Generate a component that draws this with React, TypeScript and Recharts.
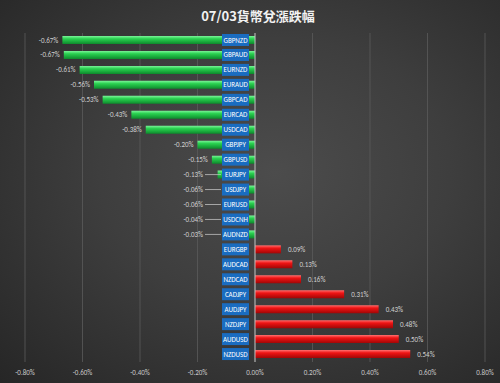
import React from 'react';
import { BarChart, Bar, XAxis, YAxis, CartesianGrid, Cell, LabelList, ReferenceLine } from 'recharts';

const pairs = ['GBPNZD','GBPAUD','EURNZD','EURAUD','GBPCAD','EURCAD','USDCAD','GBPJPY','GBPUSD','EURJPY','USDJPY','EURUSD','USDCNH','AUDNZD','EURGBP','AUDCAD','NZDCAD','CADJPY','AUDJPY','NZDJPY','AUDUSD','NZDUSD'];
const changes = [-0.67,-0.665,-0.61,-0.56,-0.53,-0.43,-0.38,-0.20,-0.15,-0.13,-0.06,-0.06,-0.04,-0.03,0.09,0.13,0.16,0.31,0.43,0.48,0.50,0.54];
const labels = ['-0.67%','-0.67%','-0.61%','-0.56%','-0.53%','-0.43%','-0.38%','-0.20%','-0.15%','-0.13%','-0.06%','-0.06%','-0.04%','-0.03%','0.09%','0.13%','0.16%','0.31%','0.43%','0.48%','0.50%','0.54%'];
const xTicks = [-0.8,-0.6,-0.4,-0.2,0,0.2,0.4,0.6,0.8];
const title = '07/03貨幣兌漲跌幅';

const data = pairs.map((name, i) => ({ name, value: changes[i], label: labels[i] }));

const FONT = 'Calibri, "Liberation Sans", "Noto Sans", sans-serif';

const CategoryBox = (props: any) => {
  const { x, y, width, height, index } = props;
  const v = changes[index];
  const zero = v >= 0 ? Math.min(x, x + width) : Math.max(x, x + width);
  const cy = y + height / 2;
  return (
    <g>
      <rect x={zero - 33} y={cy - 6} width={27} height={12} fill="#1a6cc0" />
      <text x={zero - 19.5} y={cy + 2.5} textAnchor="middle" fill="#ffffff" fontSize={7} fontFamily={FONT}>{pairs[index]}</text>
    </g>
  );
};

const ValueLabel = (props: any) => {
  const { x, y, width, height, index } = props;
  const v = changes[index];
  const left = Math.min(x, x + width);
  const right = Math.max(x, x + width);
  const cy = y + height / 2;
  if (v >= 0) {
    return <text x={right + 7} y={cy + 2.5} fill="#d0d0d0" fontSize={7} fontFamily={FONT}>{labels[index]}</text>;
  }
  if (left > 213) {
    const end = 203;
    return (
      <g>
        <line x1={end + 2} y1={cy} x2={221} y2={cy} stroke="#bfbfbf" strokeWidth={0.8} />
        <text x={end} y={cy + 2.5} textAnchor="end" fill="#d0d0d0" fontSize={7} fontFamily={FONT}>{labels[index]}</text>
      </g>
    );
  }
  return <text x={left - 4} y={cy + 2.5} textAnchor="end" fill="#d0d0d0" fontSize={7} fontFamily={FONT}>{labels[index]}</text>;
};

const fmt = (v: number) => `${v.toFixed(2)}%`;

export default function App() {
  return (
    <div style={{ position: 'absolute', left: 0, top: 0, width: 500, height: 383, background: 'radial-gradient(ellipse at 55% 45%, #4c4c4c 0%, #3e3e3e 45%, #262626 100%)' }}>
      <div style={{ position: 'absolute', left: 0, top: 6, width: 516, textAlign: 'center', color: '#f2f2f2', fontSize: 13, fontWeight: 'bold', fontFamily: '"Noto Sans CJK TC", "Noto Sans", sans-serif' }}>{title}</div>
      <BarChart width={500} height={383} data={data} layout="vertical" margin={{ top: 33, right: 15, bottom: 0, left: 25 }} barSize={8} barCategoryGap={0}>
        <defs>
          <linearGradient id="gGreen" x1="0" y1="0" x2="0" y2="1">
            <stop offset="0%" stopColor="#7cf59a" />
            <stop offset="35%" stopColor="#2ad150" />
            <stop offset="100%" stopColor="#0d8a2c" />
          </linearGradient>
          <linearGradient id="gRed" x1="0" y1="0" x2="0" y2="1">
            <stop offset="0%" stopColor="#ff7070" />
            <stop offset="35%" stopColor="#f01414" />
            <stop offset="100%" stopColor="#a00606" />
          </linearGradient>
        </defs>
        <CartesianGrid horizontal={false} stroke="#5a5a5a" strokeWidth={0.8} />
        <XAxis type="number" domain={[-0.8, 0.8]} ticks={xTicks} tickFormatter={fmt} axisLine={false} tickLine={false} height={21} tick={{ fill: '#c8c8c8', fontSize: 7, fontFamily: FONT }} interval={0} />
        <YAxis type="category" dataKey="name" hide />
        <ReferenceLine x={0} stroke="#bdbdbd" strokeWidth={1} />
        <Bar dataKey="value" isAnimationActive={false}>
          {data.map((d, i) => (
            <Cell key={i} fill={d.value >= 0 ? 'url(#gRed)' : 'url(#gGreen)'} />
          ))}
          <LabelList dataKey="name" content={CategoryBox} />
          <LabelList dataKey="value" content={ValueLabel} />
        </Bar>
      </BarChart>
    </div>
  );
}
